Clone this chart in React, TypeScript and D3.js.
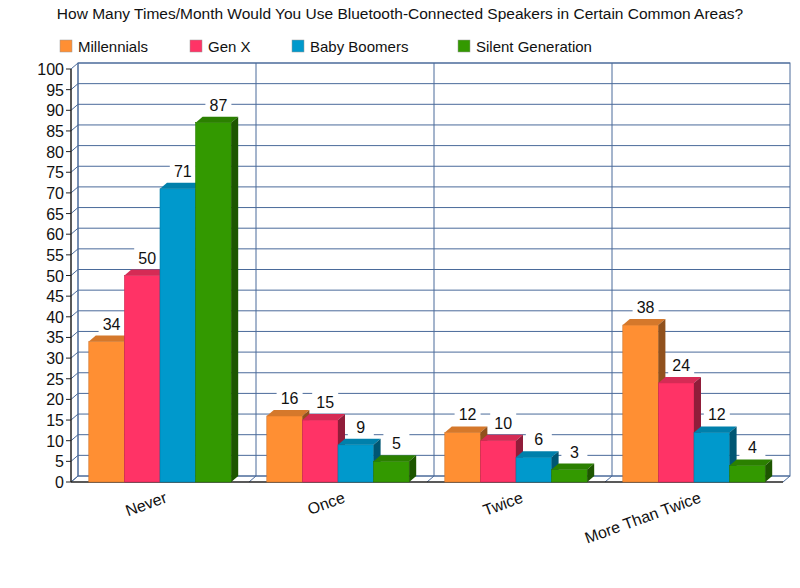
import React from 'react';
import * as d3 from 'd3';

const categories = ['Never', 'Once', 'Twice', 'More Than Twice'];
const seriesNames = ['Millennials', 'Gen X', 'Baby Boomers', 'Silent Generation'];
const millennials = [34, 16, 12, 38];
const genX = [50, 15, 10, 24];
const boomers = [71, 9, 6, 12];
const silent = [87, 5, 3, 4];
const yTicks = d3.range(0, 101, 5);

const colors = ['#ff8f33', '#ff3366', '#0099cc', '#339900'];
const values = [millennials, genX, boomers, silent];

const DX = 7, DY = -6;
const left = 71, right = 783, bottom = 482, top = 69;

export default function App() {
  const x0 = d3.scaleBand().domain(categories).range([left, right]);
  const x1 = d3.scaleBand().domain(seriesNames).range([0, x0.bandwidth()]).paddingOuter(0.5).paddingInner(0);
  const y = d3.scaleLinear().domain([0, 100]).range([bottom, top]);
  const font = 'Liberation Sans, Arial, sans-serif';

  return (
    <svg width={800} height={570} style={{ display: 'block', position: 'absolute', left: 0, top: 0, fontFamily: font }}>
      <rect width={800} height={570} fill="#fff" />
      <text x={400} y={19} textAnchor="middle" fontSize={15.5} fill="#111">
        How Many Times/Month Would You Use Bluetooth-Connected Speakers in Certain Common Areas?
      </text>
      {seriesNames.map((s, i) => {
        const lx = [60, 190, 292, 458][i];
        return (
          <g key={s}>
            <rect x={lx} y={40} width={12} height={12} fill={colors[i]} stroke="#999" strokeWidth={0.5} />
            <text x={lx + 18} y={52} fontSize={15} fill="#111">{s}</text>
          </g>
        );
      })}
      {/* back wall */}
      <rect x={left + DX} y={top + DY} width={right - left} height={bottom - top} fill="#fff" stroke="#4a6a9a" strokeWidth={1} />
      {yTicks.map(t => (
        <g key={t}>
          <line x1={left + DX} x2={right + DX} y1={y(t) + DY} y2={y(t) + DY} stroke="#4a6a9a" strokeWidth={1} />
          <line x1={left} x2={left + DX} y1={y(t)} y2={y(t) + DY} stroke="#4a6a9a" strokeWidth={1} />
          <line x1={left - 5} x2={left} y1={y(t)} y2={y(t)} stroke="#222" />
          <text x={left - 7} y={y(t) + 6} textAnchor="end" fontSize={16} fill="#111">{t}</text>
        </g>
      ))}
      {categories.map((c, i) => (
        <g key={c}>
          <line x1={x0(c)! + DX} x2={x0(c)! + DX} y1={top + DY} y2={bottom + DY} stroke="#4a6a9a" />
          <line x1={x0(c)!} x2={x0(c)! + DX} y1={bottom} y2={bottom + DY} stroke="#4a6a9a" />
        </g>
      ))}
      <line x1={right} x2={right + DX} y1={bottom} y2={bottom + DY} stroke="#4a6a9a" />
      <line x1={left} x2={left} y1={top} y2={bottom} stroke="#222" strokeWidth={1.5} />
      <line x1={left} x2={right} y1={bottom} y2={bottom} stroke="#222" strokeWidth={1.5} />
      {categories.map((c, ci) =>
        seriesNames.map((s, si) => {
          const v = values[si][ci];
          const bx = x0(c)! + x1(s)!;
          const w = x1.bandwidth();
          const by = y(v);
          const col = d3.color(colors[si])!;
          return (
            <g key={c + s}>
              <rect x={bx} y={by} width={w} height={bottom - by} fill={colors[si]} stroke={col.darker(0.6).toString()} strokeWidth={0.6} />
              <polygon points={`${bx},${by} ${bx + DX},${by + DY} ${bx + w + DX},${by + DY} ${bx + w},${by}`} fill={col.darker(0.5).toString()} />
              <polygon points={`${bx + w},${by} ${bx + w + DX},${by + DY} ${bx + w + DX},${bottom + DY} ${bx + w},${bottom}`} fill={col.darker(1.6).toString()} />
              <rect x={bx + w / 2 - 8} y={by - 28} width={26} height={20} fill="#fff" />
              <text x={bx + w / 2 + 5} y={by - 12} textAnchor="middle" fontSize={16} fill="#111">{v}</text>
            </g>
          );
        })
      )}
      {categories.map(c => {
        const cx = x0(c)! + x0.bandwidth() / 2;
        return (
          <text key={c} transform={`translate(${cx + 8},${bottom + 20}) rotate(-20)`} textAnchor="end" fontSize={16} fill="#111">{c}</text>
        );
      })}
    </svg>
  );
}
